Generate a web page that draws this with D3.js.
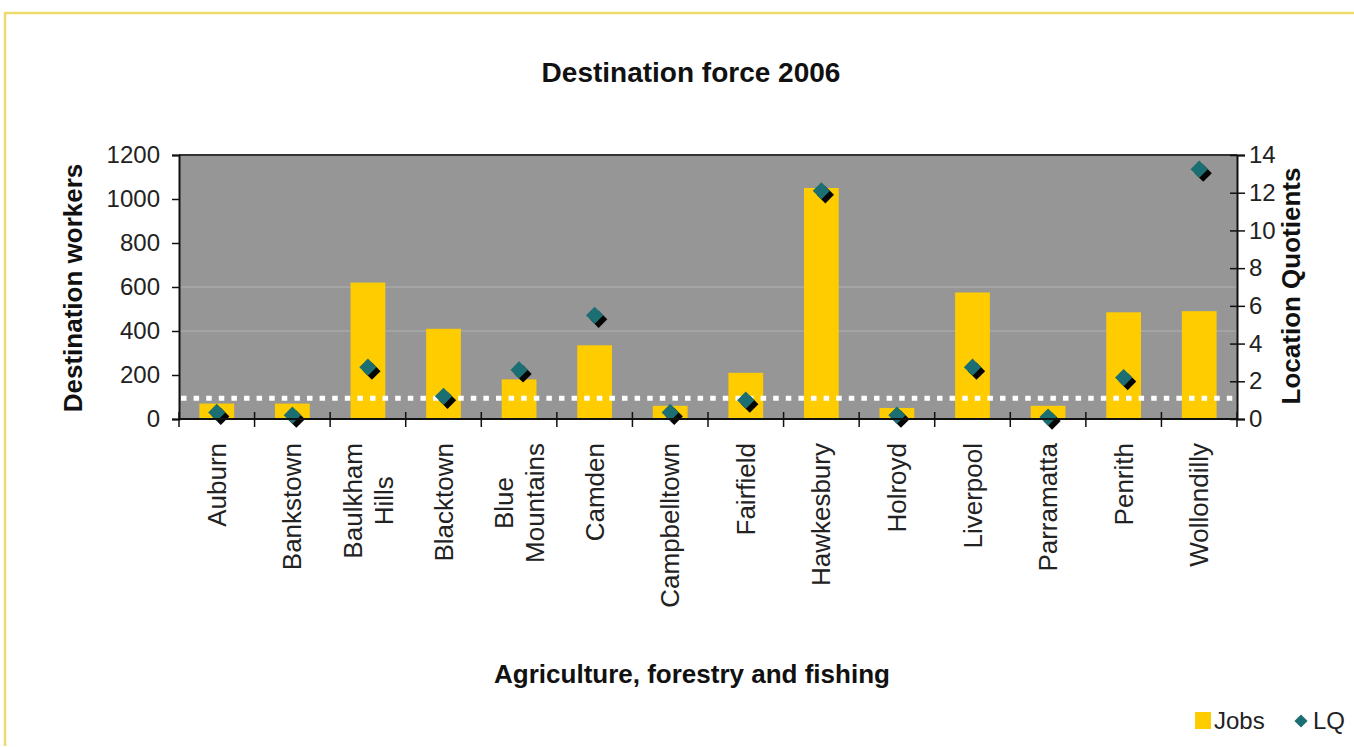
<!DOCTYPE html>
<html>
<head>
<meta charset="utf-8">
<script src="https://cdn.jsdelivr.net/npm/d3@7/dist/d3.min.js"></script>
<style>
  html, body { margin: 0; padding: 0; background: #fff; }
  svg { display: block; font-family: "Liberation Sans", Arial, sans-serif; }
</style>
</head>
<body>
<svg id="chart" width="1354" height="747"></svg>
<script>
// Agriculture, forestry and fishing: destination jobs and location quotients, 2006
const categories = ["Auburn", "Bankstown", "Baulkham Hills", "Blacktown", "Blue Mountains",
  "Camden", "Campbelltown", "Fairfield", "Hawkesbury", "Holroyd", "Liverpool",
  "Parramatta", "Penrith", "Wollondilly"];
const jobs = [70, 70, 620, 410, 180, 335, 60, 210, 1050, 50, 575, 60, 485, 490];
const lq = [0.35, 0.2, 2.75, 1.2, 2.6, 5.5, 0.35, 1.0, 12.1, 0.2, 2.75, 0.1, 2.2, 13.25];
const jobsTicks = [0, 200, 400, 600, 800, 1000, 1200];
const lqTicks = [0, 2, 4, 6, 8, 10, 12, 14];
const gridValues = [400, 600];
const lqReference = 1.1;

const svg = d3.select("#chart");
const plot = { left: 179, right: 1237, top: 155, bottom: 419 };

const x = d3.scaleBand().domain(categories).range([plot.left, plot.right]).paddingInner(0).paddingOuter(0);
const yJobs = d3.scaleLinear().domain([0, 1200]).range([plot.bottom, plot.top]);
const yLq = d3.scaleLinear().domain([0, 14]).range([plot.bottom, plot.top]);

// outer frame
svg.append("path")
  .attr("d", `M5,746 V13 H1360`)
  .attr("fill", "none").attr("stroke", "#eedc6a").attr("stroke-width", 2.5);

// title
svg.append("text")
  .attr("x", 691).attr("y", 82)
  .attr("text-anchor", "middle")
  .attr("font-size", 28).attr("font-weight", "bold").attr("fill", "#111")
  .text("Destination force 2006");

// plot background
svg.append("rect")
  .attr("x", plot.left).attr("y", plot.top)
  .attr("width", plot.right - plot.left).attr("height", plot.bottom - plot.top)
  .attr("fill", "#969696");

// faint gridlines
svg.append("g").selectAll("line").data(gridValues).join("line")
  .attr("x1", plot.left).attr("x2", plot.right)
  .attr("y1", d => yJobs(d)).attr("y2", d => yJobs(d))
  .attr("stroke", "#b2b2b2").attr("stroke-width", 1.2);

// top border of plot
svg.append("line")
  .attr("x1", plot.left).attr("x2", plot.right)
  .attr("y1", plot.top).attr("y2", plot.top)
  .attr("stroke", "#333").attr("stroke-width", 2);

// bars
const barW = x.bandwidth() * 0.46;
svg.append("g").selectAll("rect").data(categories).join("rect")
  .attr("x", d => x(d) + (x.bandwidth() - barW) / 2)
  .attr("width", barW)
  .attr("y", (d, i) => yJobs(jobs[i]))
  .attr("height", (d, i) => yJobs(0) - yJobs(jobs[i]))
  .attr("fill", "#ffcc00");

// reference line (dotted white)
svg.append("line")
  .attr("x1", plot.left + 2).attr("x2", plot.right)
  .attr("y1", yLq(lqReference)).attr("y2", yLq(lqReference))
  .attr("stroke", "#fff").attr("stroke-width", 5)
  .attr("stroke-dasharray", "5.5 7.1");

// LQ markers: dark shadow then teal diamond
const diamond = d3.symbol().type(d3.symbolDiamond2).size(190);
const mk = svg.append("g");
mk.selectAll("path.shadow").data(categories).join("path")
  .attr("class", "shadow")
  .attr("d", diamond)
  .attr("transform", (d, i) => `translate(${x(d) + x.bandwidth() / 2 + 4},${yLq(lq[i]) + 4})`)
  .attr("fill", "#050505");
mk.selectAll("path.pt").data(categories).join("path")
  .attr("class", "pt")
  .attr("d", diamond)
  .attr("transform", (d, i) => `translate(${x(d) + x.bandwidth() / 2},${yLq(lq[i])})`)
  .attr("fill", "#1b6f72");

// left axis
const leftAxis = svg.append("g")
  .attr("transform", `translate(${plot.left},0)`)
  .call(d3.axisLeft(yJobs).tickValues(jobsTicks).tickSize(7).tickPadding(12).tickFormat(d3.format("d")));
leftAxis.select(".domain").attr("stroke", "#111").attr("stroke-width", 2);
leftAxis.selectAll(".tick line").attr("stroke", "#111").attr("stroke-width", 1.5);
leftAxis.selectAll(".tick text").attr("font-size", 24).attr("fill", "#222")
  .attr("font-family", "'Liberation Sans', Arial, sans-serif");

// right axis
const rightAxis = svg.append("g")
  .attr("transform", `translate(${plot.right},0)`)
  .call(d3.axisRight(yLq).tickValues(lqTicks).tickSize(8).tickPadding(4));
rightAxis.select(".domain").attr("stroke", "#111").attr("stroke-width", 2);
rightAxis.selectAll(".tick line").attr("x1", -7).attr("stroke", "#111").attr("stroke-width", 1.5);
rightAxis.selectAll(".tick text").attr("font-size", 24).attr("fill", "#222")
  .attr("font-family", "'Liberation Sans', Arial, sans-serif");

// bottom axis line and category separators
svg.append("line")
  .attr("x1", plot.left).attr("x2", plot.right)
  .attr("y1", plot.bottom).attr("y2", plot.bottom)
  .attr("stroke", "#111").attr("stroke-width", 2);
svg.append("g").selectAll("line").data(d3.range(categories.length + 1)).join("line")
  .attr("x1", i => plot.left + i * x.step()).attr("x2", i => plot.left + i * x.step())
  .attr("y1", plot.bottom - 7).attr("y2", plot.bottom + 8)
  .attr("stroke", "#111").attr("stroke-width", 1.5);

// category labels, rotated, top-aligned under the axis
const labelTop = 443;
const lineGap = 31;
svg.append("g").selectAll("g").data(categories).join("g")
  .attr("transform", d => `translate(${x(d) + x.bandwidth() / 2},${labelTop}) rotate(-90)`)
  .each(function (d) {
    const g = d3.select(this);
    const lines = d.split(" ");
    const texts = lines.map((ln, j) => g.append("text")
      .attr("font-size", 26).attr("fill", "#222")
      .attr("text-anchor", "middle")
      .attr("y", (j - (lines.length - 1) / 2) * lineGap)
      .attr("dy", "0.35em")
      .text(ln));
    const maxLen = d3.max(texts, t => t.node().getComputedTextLength());
    texts.forEach(t => t.attr("x", -maxLen / 2));
  });

// axis titles
svg.append("text")
  .attr("transform", "translate(82,288) rotate(-90)")
  .attr("text-anchor", "middle")
  .attr("font-size", 26).attr("font-weight", "bold").attr("fill", "#111")
  .text("Destination workers");
svg.append("text")
  .attr("transform", "translate(1300,286) rotate(-90)")
  .attr("text-anchor", "middle")
  .attr("font-size", 26).attr("font-weight", "bold").attr("fill", "#111")
  .text("Location Quotients");
svg.append("text")
  .attr("x", 692).attr("y", 683)
  .attr("text-anchor", "middle")
  .attr("font-size", 26).attr("font-weight", "bold").attr("fill", "#111")
  .text("Agriculture, forestry and fishing");

// legend
const legend = svg.append("g");
legend.append("rect").attr("x", 1195).attr("y", 712).attr("width", 16).attr("height", 17).attr("fill", "#ffcc00");
legend.append("text").attr("x", 1214).attr("y", 729).attr("font-size", 24).attr("fill", "#222").text("Jobs");
legend.append("path").attr("d", d3.symbol().type(d3.symbolDiamond2).size(110))
  .attr("transform", "translate(1301,721)").attr("fill", "#1b6f72");
legend.append("text").attr("x", 1313).attr("y", 729).attr("font-size", 24).attr("fill", "#222").text("LQ");
</script>
</body>
</html>
